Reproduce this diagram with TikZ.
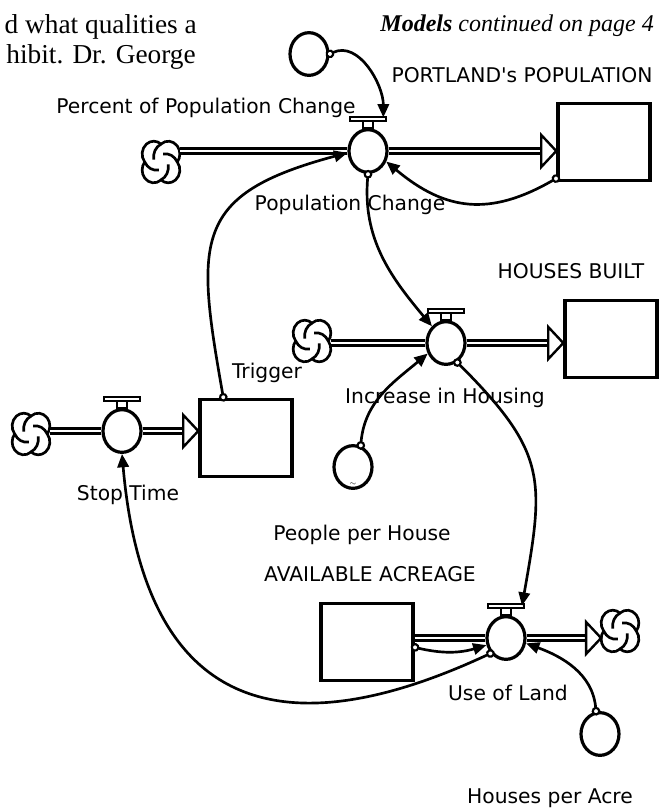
\documentclass[tikz,border=0pt]{standalone}
\usepackage{fontspec}
\setmainfont{Liberation Serif}
\newfontfamily\labelfont{DejaVu Sans}
\usetikzlibrary{arrows.meta}
\usetikzlibrary{shapes.geometric}

\begin{document}
\begin{tikzpicture}[x=0.75pt, y=0.75pt,
    stock/.style = {draw, line width=2.6pt, fill=white, minimum width=69pt, minimum height=58pt, inner sep=0pt},
    valve/.style = {draw, ellipse, line width=2.4pt, fill=white, minimum width=28.5pt, minimum height=32pt, inner sep=0pt},
    conv/.style = {draw, ellipse, line width=2.4pt, fill=white, minimum width=28.5pt, minimum height=32pt, inner sep=0pt},
    cloud/.style = {minimum width=28pt, minimum height=31pt, inner sep=0pt},
    pipe/.style = {draw, line width=1.7pt, double, double distance=2pt},
    link/.style = {line width=2pt, shorten <=-3pt,
      {Circle[fill=white, length=6.5pt, width=6.5pt, line width=1.6pt]}-{Triangle[length=10pt, width=8.5pt]}},
    lab/.style = {font=\labelfont\fontsize{15.2}{17}\selectfont, inner sep=0pt, anchor=base},
    page/.style = {font=\fontsize{20.5}{24}\selectfont, inner sep=0pt, anchor=base east},
    cloudglyph/.pic = {
      \draw[line width=2pt, fill=white, xscale=1.45, yscale=1.6]
        (0,11.24) arc[start angle=128.7, end angle=-38.7, radius=8]
        arc[start angle=38.7, end angle=-128.7, radius=8]
        arc[start angle=-51.3, end angle=-218.7, radius=8]
        arc[start angle=218.7, end angle=51.3, radius=8] -- cycle;
      \foreach \r in {0,90,180,270}
        \draw[line width=2pt, xscale=1.45, yscale=1.6, rotate=\r] (0,11.24) to[bend right=35] (-5,1.5);
    },
    flowhead/.pic = {\draw[line width=1.8pt, fill=white, line join=miter] (0,0) -- (-15,16) -- (-15,-16) -- cycle;}]
    \useasboundingbox (0,0) rectangle (662,-808);

    % Nodes
    \node[stock] (1) at (604,-142) {};
    \node[stock] (2) at (611,-339) {};
    \node[stock] (3) at (246,-438) {};
    \node[stock] (4) at (367,-642) {};

    \node[valve] (5) at (368,-151) {};
    \node[valve] (6) at (446,-343) {};
    \node[valve] (7) at (122,-431) {};
    \node[valve] (8) at (506,-638) {};

    \node[conv] (9) at (309,-54) {};
    \node[conv] (10) at (353,-467) {};
    \node[conv] (11) at (600,-734) {};
    \node[font=\tiny, inner sep=0pt] (16) at ([yshift=4pt]10.south) {$\sim$};

    \node[cloud] (12) at (161,-162) {};
    \node[cloud] (13) at (312,-341) {};
    \node[cloud] (14) at (31,-434) {};
    \node[cloud] (15) at (620,-631) {};
    \foreach \c in {12,13,14,15} \pic at (\c) {cloudglyph};

    % Flows
    \path[pipe] (12.east |- 5) -- (5);
    \path[pipe, shorten >=11pt] (5) -- (1.west |- 5);
    \pic at (1.west |- 5) {flowhead};
    \path[pipe] (13.east |- 6) -- (6);
    \path[pipe, shorten >=11pt] (6) -- (2.west |- 6);
    \pic at (2.west |- 6) {flowhead};
    \path[pipe] (14.east |- 7) -- (7);
    \path[pipe, shorten >=11pt] (7) -- (3.west |- 7);
    \pic at (3.west |- 7) {flowhead};
    \path[pipe] (4.east |- 8) -- (8);
    \path[pipe, shorten >=11pt] (8) -- (15.west |- 8);
    \pic at (15.west |- 8) {flowhead};

    % valve handles
    \foreach \v in {5,6,7,8} {
      \draw[line width=1.4pt, fill=white] ([xshift=-3.5pt]\v.north) rectangle ([xshift=3.5pt, yshift=5pt]\v.north);
      \draw[line width=1.4pt, fill=white] ([xshift=-13.5pt, yshift=5pt]\v.north) rectangle ([xshift=13.5pt, yshift=8.5pt]\v.north);
    }

    % Edges
    \draw[link] (9.east) to[out=25, in=90] ([xshift=11.5pt, yshift=8pt]5.north);
    \draw[link] ([yshift=3pt]1.south west) to[out=-150, in=-40, looseness=1.15] (5.-30);
    \draw[link] (5.south) to[out=-95, in=130] (6.130);
    \draw[link] ([xshift=-17pt]3.north) to[out=100, in=195, looseness=1.5] (5.185);
    \draw[link] (6.-60) to[out=-45, in=80, looseness=1.3] ([xshift=12pt, yshift=7pt]8.north);
    \draw[link] (10.70) to[out=85, in=220] (6.210);
    \draw[link] ([yshift=-4pt]4.east) to[bend right=15] (8.200);
    \draw[link] (8.-135) to[out=-155, in=-85, looseness=1.5] (7.south);
    \draw[link] (11.100) to[out=95, in=-20] (8.-15);

    % Labels
    \node[lab] (20) at (206,-113) {Percent of Population Change};
    \node[lab] (21) at (522,-82) {PORTLAND's POPULATION};
    \node[lab] (22) at (350,-210) {Population Change};
    \node[lab] (23) at (571,-278) {HOUSES BUILT};
    \node[lab] (24) at (445,-403) {Increase in Housing};
    \node[lab] (25) at (267,-378) {Trigger};
    \node[lab] (26) at (128,-500) {Stop Time};
    \node[lab] (27) at (362,-540) {People per House};
    \node[lab] (28) at (370,-581) {AVAILABLE ACREAGE};
    \node[lab] (29) at (508,-700) {Use of Land};
    \node[lab] (30) at (550,-803) {Houses per Acre};

    \node[page] (17) at (197,-33) {d what qualities a};
    \node[page] (18) at (196,-63) {hibit. Dr. George};
    \node[page, font=\fontsize{18}{22}\selectfont] (19) at (654,-31) {\textbf{\textit{Models}} \textit{continued on page 4}};

\end{tikzpicture}
\end{document}
